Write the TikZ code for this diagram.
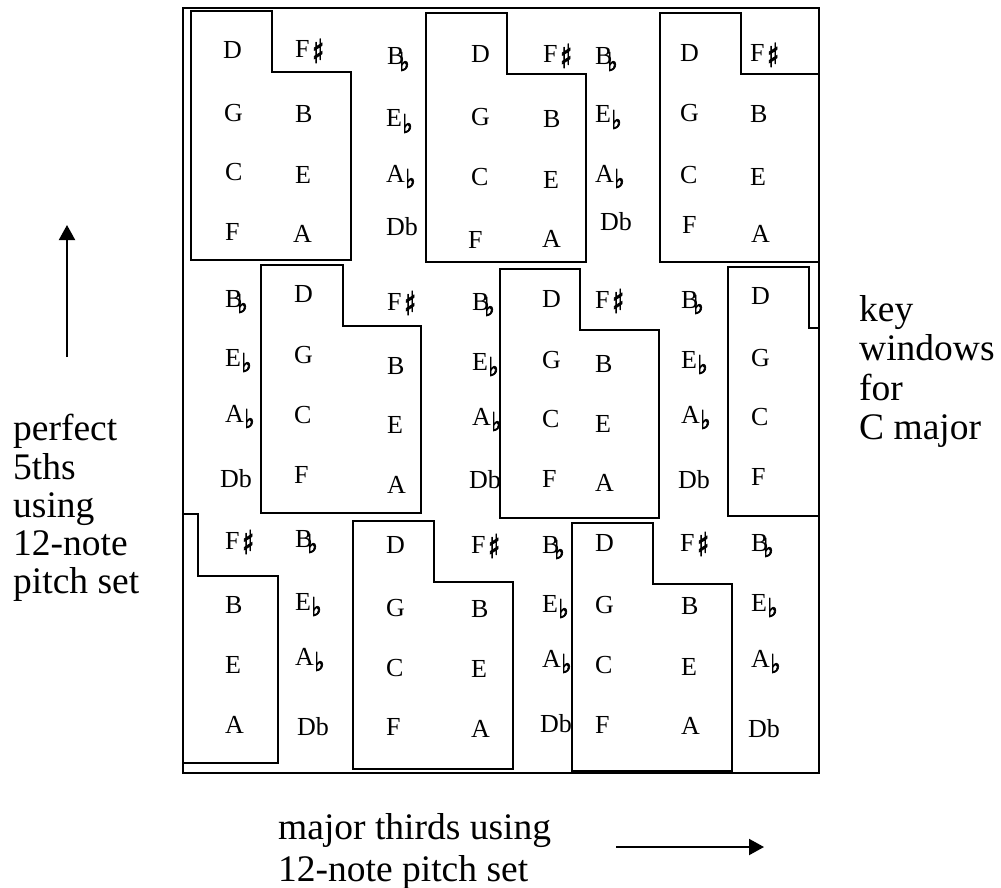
\documentclass[tikz,border=0pt]{standalone}
\usepackage{fontspec}
\setmainfont{Liberation Serif}
\newfontfamily\symfont[FakeBold=3]{DejaVu Sans}
\usetikzlibrary{arrows.meta}
\newcommand{\flatglyph}{\raisebox{-6pt}{\resizebox*{10pt}{19pt}{\raisebox{\depth}{\symfont ♭}}}}
\newcommand{\fl}{\kern0.5pt\flatglyph}
\newcommand{\flb}{\kern-5pt\flatglyph}
\newcommand{\shp}{\kern2.5pt\raisebox{-5pt}{\resizebox*{12pt}{24pt}{\raisebox{\depth}{\symfont ♯}}}}
\begin{document}
\begin{tikzpicture}[x=1pt,y=-1pt,
  notetext/.style={anchor=base west, inner sep=0pt, font=\fontsize{26}{26}\selectfont},
  bigtext/.style={anchor=base west, inner sep=0pt, font=\fontsize{37.5}{38}\selectfont},
  winline/.style={line width=2.6pt, line join=miter},
  frameline/.style={line width=2pt},
  arr/.style={line width=2pt, -{Triangle[length=15pt,width=16pt]}}]
\useasboundingbox (0,0) rectangle (1001,888);
\fill[white] (0,0) rectangle (1001,888);
% outer frame
\draw[frameline] (183,8) rectangle (819,773);
% key windows
\draw[winline] (191,11) -- (272,11) -- (272,72) -- (351,72) -- (351,260) -- (191,260) -- cycle;
\draw[winline] (426,13) -- (507,13) -- (507,74) -- (586,74) -- (586,262) -- (426,262) -- cycle;
\draw[winline] (660,13) -- (741,13) -- (741,74) -- (819,74) -- (819,262) -- (660,262) -- cycle;
\draw[winline] (261,265) -- (343,265) -- (343,326) -- (421,326) -- (421,513) -- (261,513) -- cycle;
\draw[winline] (500,269) -- (580,269) -- (580,330) -- (659,330) -- (659,518) -- (500,518) -- cycle;
\draw[winline] (728,267) -- (809,267) -- (809,328) -- (819,328) -- (819,516) -- (728,516) -- cycle;
\draw[winline] (182,514) -- (198,514) -- (198,576) -- (278,576) -- (278,763) -- (182,763);
\draw[winline] (353,521) -- (434,521) -- (434,582) -- (513,582) -- (513,769) -- (353,769) -- cycle;
\draw[winline] (572,523) -- (653,523) -- (653,584) -- (732,584) -- (732,771) -- (572,771) -- cycle;
% notes
\foreach \x/\y/\t [count=\i] in {
 223/59/D, 295/58/F\shp, 387/65/B\flb, 224/122/G, 295/123/B, 386/127/E\fl,
 225/180/C, 295/183/E, 386/182/A\fl, 225/240/F, 293/242/A, 386/235/Db,
 471/63/D, 543/63/F\shp, 471/125/G, 543/128/B, 471/185/C, 543/188/E, 468/248/F, 542/247/A,
 595/65/B\flb, 595/123/E\fl, 595/182/A\fl, 600/230/Db,
 680/62/D, 750/62/F\shp, 680/122/G, 750/123/B, 680/183/C, 750/185/E, 682/233/F, 751/242/A,
 225/307/B\flb, 225/366/E\fl, 225/422/A\fl, 220/487/Db,
 294/302/D, 294/363/G, 294/423/C, 294/483/F,
 387/310/F\shp, 387/374/B, 387/433/E, 387/493/A,
 472/310/B\flb, 472/370/E\fl, 472/425/A\fl, 469/488/Db,
 542/307/D, 542/368/G, 542/427/C, 542/487/F,
 595/308/F\shp, 595/372/B, 595/432/E, 595/491/A,
 681/308/B\flb, 681/368/E\fl, 681/423/A\fl, 678/488/Db,
 751/304/D, 751/366/G, 751/425/C, 751/485/F,
 225/549/F\shp, 295/547/B\flb, 225/613/B, 295/610/E\fl, 225/673/E, 295/665/A\fl, 225/733/A, 297/735/Db,
 386/553/D, 386/616/G, 386/676/C, 386/735/F,
 471/553/F\shp, 471/617/B, 471/677/E, 471/737/A,
 542/553/B\flb, 542/612/E\fl, 542/667/A\fl, 540/732/Db,
 595/551/D, 595/613/G, 595/673/C, 595/733/F,
 680/551/F\shp, 681/614/B, 681/675/E, 681/734/A,
 751/551/B\flb, 751/611/E\fl, 751/667/A\fl, 748/737/Db}
 \node[notetext] (n\i) at (\x,\y) {\t};
% left label and arrow
\node[bigtext] (l1) at (13,440) {perfect};
\node[bigtext] (l2) at (13,479) {5ths};
\node[bigtext] (l3) at (13,517) {using};
\node[bigtext] (l4) at (13,555) {12-note};
\node[bigtext] (l5) at (13,593) {pitch set};
\coordinate (va1) at (67,357);
\coordinate (va2) at (67,225);
\draw[arr] (va1) -- (va2);
% right label
\node[bigtext] (r1) at (859,321) {key};
\node[bigtext] (r2) at (859,360) {windows};
\node[bigtext] (r3) at (859,400) {for};
\node[bigtext] (r4) at (859,439) {C major};
% bottom label and arrow
\node[bigtext] (b1) at (278,839) {major thirds using};
\node[bigtext] (b2) at (278,881) {12-note pitch set};
\coordinate (ha1) at (616,847);
\coordinate (ha2) at (764,847);
\draw[arr] (ha1) -- (ha2);
\end{tikzpicture}
\end{document}
